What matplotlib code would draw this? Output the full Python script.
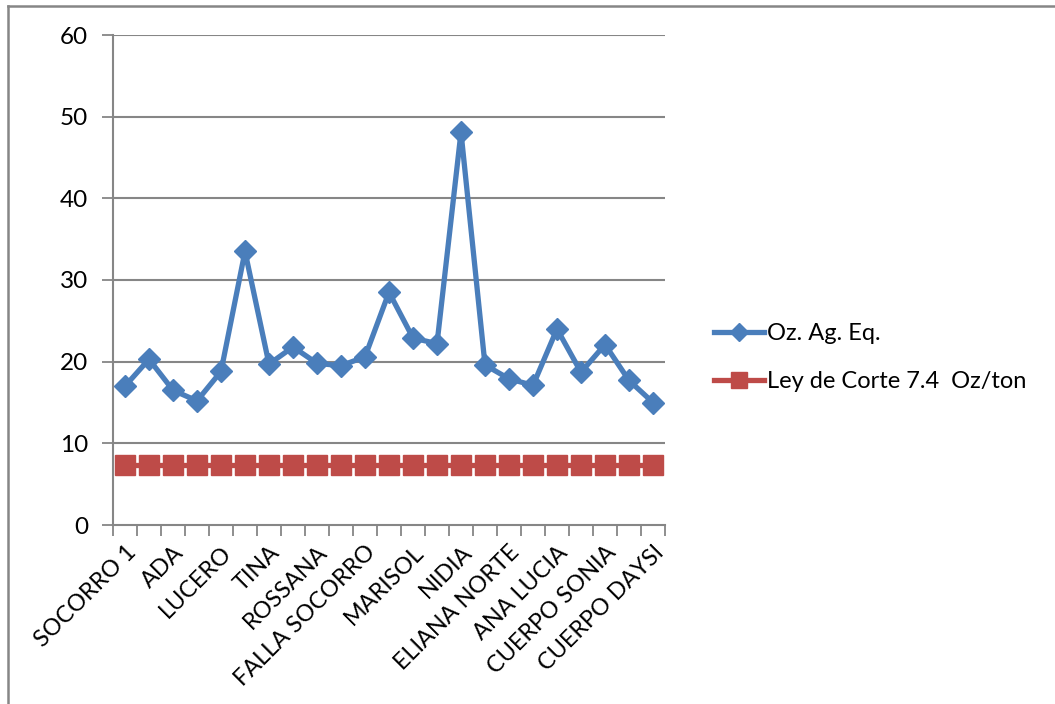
import matplotlib.pyplot as plt
import numpy as np

# veta names, one per sample point
vetas = ["SOCORRO 1", "", "ADA", "", "LUCERO", "", "TINA", "", "ROSSANA", "",
         "FALLA SOCORRO", "", "MARISOL", "", "NIDIA", "", "ELIANA NORTE", "",
         "ANA LUCIA", "", "CUERPO SONIA", "", "CUERPO DAYSI"]
oz_ag_eq = [17.0, 20.3, 16.5, 15.2, 18.8, 33.5, 19.7, 21.8, 19.8, 19.5, 20.6,
            28.5, 22.9, 22.2, 48.1, 19.6, 17.9, 17.1, 24.0, 18.7, 22.1, 17.7, 15.0]
ley_corte = [7.4] * len(oz_ag_eq)
y_ticks = [0, 10, 20, 30, 40, 50, 60]

plt.rcParams['font.family'] = ['Lato', 'DejaVu Sans']
grey = '#868686'
blue = '#4A7EBB'
red = '#BE4B48'

fig = plt.figure(figsize=(10.55, 7.04), dpi=100)
ax = fig.add_axes([113 / 1055, 1 - 525 / 704, (665 - 113) / 1055, (525 - 35) / 704])

x = np.arange(len(oz_ag_eq))
ax.plot(x, ley_corte, color=red, lw=3.8, marker='s', markersize=14,
        label='Ley de Corte 7.4  Oz/ton', zorder=3)
ax.plot(x, oz_ag_eq, color=blue, lw=3.8, marker='D', markersize=11,
        label='Oz. Ag. Eq.', zorder=4)

ax.set_xlim(-0.5, len(oz_ag_eq) - 0.5)
ax.set_ylim(0, 60)
ax.set_yticks(y_ticks)
ax.tick_params(axis='y', labelsize=17.5, length=8, color=grey, width=1.3, pad=10)
for t in y_ticks[1:]:
    ax.axhline(t, color=grey, lw=1.5, zorder=1)

# category boundaries carry the tick marks, names sit at centres
ax.set_xticks(np.arange(len(oz_ag_eq) + 1) - 0.5)
ax.set_xticklabels([])
ax.tick_params(axis='x', length=8, color=grey, width=1.3)
ax.set_xticks(x, minor=True)
ax.set_xticklabels(vetas, minor=True, rotation=45, ha='right', va='top',
                   rotation_mode='anchor', fontsize=16.8)
ax.tick_params(axis='x', which='minor', length=0, pad=12)

for side in ['top', 'right']:
    ax.spines[side].set_visible(False)
for side in ['left', 'bottom']:
    ax.spines[side].set_color(grey)
    ax.spines[side].set_linewidth(1.5)

handles, labels = ax.get_legend_handles_labels()
fig.legend(handles[::-1], labels[::-1], loc='upper left',
           bbox_to_anchor=(693 / 1055, 1 - 302 / 704), frameon=False,
           fontsize=17, handlelength=2.1, handletextpad=0.15,
           labelspacing=1.15, markerscale=0.85)

# outer chart frame: only the top and left edges fall inside the image
fig.add_artist(plt.Line2D([8 / 1055, 1], [1 - 6 / 704, 1 - 6 / 704],
                          transform=fig.transFigure, color=grey, lw=1.8))
fig.add_artist(plt.Line2D([8 / 1055, 8 / 1055], [0, 1 - 6 / 704],
                          transform=fig.transFigure, color=grey, lw=1.8))

plt.savefig('out.png', dpi=100)
